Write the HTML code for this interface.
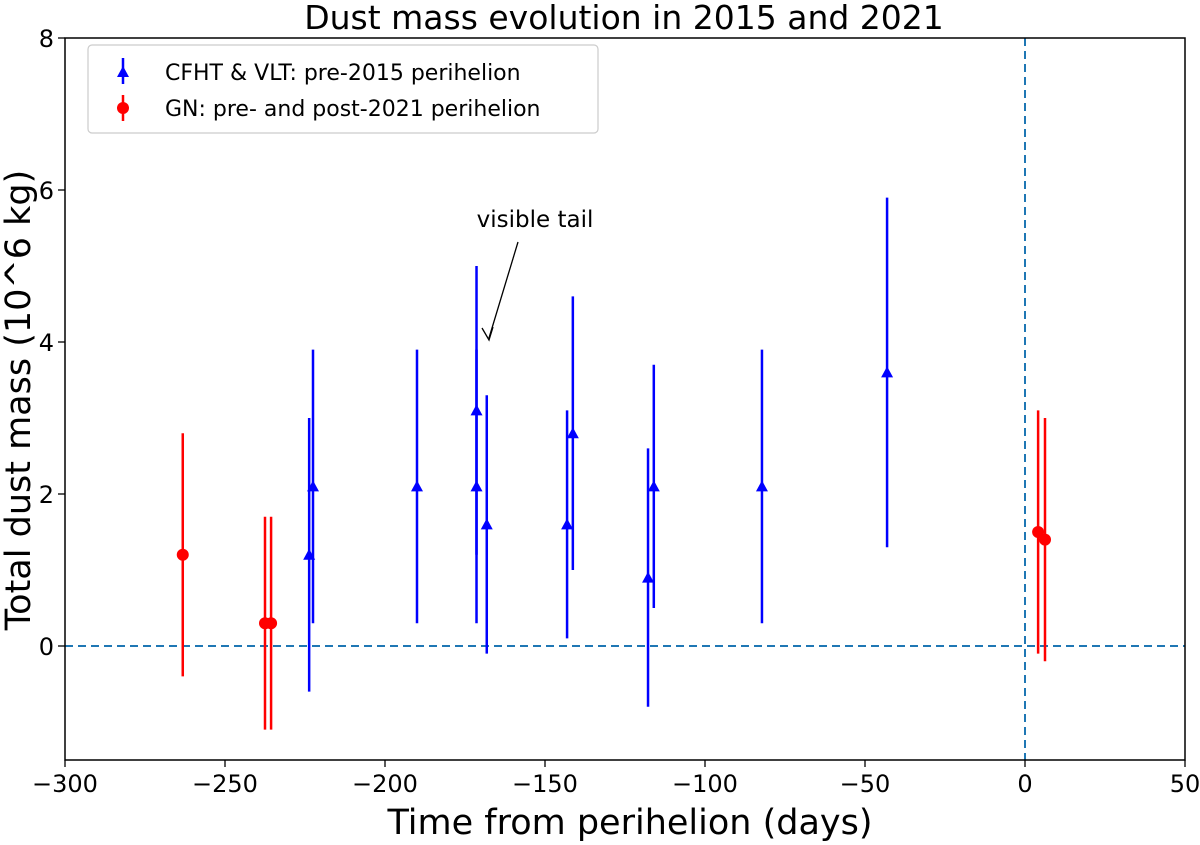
<!DOCTYPE html>
<html><head><meta charset="utf-8"><style>
html,body{margin:0;padding:0;background:#fff;}
svg{display:block;font-family:"DejaVu Sans","Liberation Sans",sans-serif;}
</style></head><body>
<svg id="chart" width="1200" height="845" viewBox="0 0 1200 845">
<text x="624" y="29" font-size="33" text-anchor="middle">Dust mass evolution in 2015 and 2021</text>
<g id="grid"></g>
<g id="marks"></g>
<rect x="65" y="38" width="1120" height="722" fill="none" stroke="#000" stroke-width="1.5"/>
<g id="axes"></g>
<text x="630" y="834" font-size="35" text-anchor="middle">Time from perihelion (days)</text>
<text transform="translate(30,400) rotate(-90)" font-size="35" text-anchor="middle">Total dust mass (10^6 kg)</text>
<g>
<text x="535" y="227" font-size="23" text-anchor="middle">visible tail</text>
<line x1="518" y1="242" x2="489" y2="338" stroke="#000" stroke-width="1.3"/>
<path d="M482,328 L489,340 L493,327" fill="none" stroke="#000" stroke-width="1.3"/>
</g>
<g>
<rect x="88" y="45" width="510" height="88" rx="4" fill="#fff" stroke="#ccc" stroke-width="1.2"/>
<line x1="123" y1="58" x2="123" y2="84" stroke="#0000ff" stroke-width="2.5"/>
<path d="M117,77 L123,66 L129,77Z" fill="#0000ff"/>
<text x="165" y="80" font-size="22">CFHT &amp; VLT: pre-2015 perihelion</text>
<line x1="123" y1="95" x2="123" y2="121" stroke="#ff0000" stroke-width="2.5"/>
<circle cx="123" cy="108" r="6" fill="#ff0000"/>
<text x="165" y="116" font-size="22">GN: pre- and post-2021 perihelion</text>
</g>
</svg>
<script>
const xTicks=[-300,-250,-200,-150,-100,-50,0,50];
const yTicks=[0,2,4,6,8];
const blueX=[-223.7,-222.5,-190,-171.4,-171.4,-168.2,-143.1,-141.3,-117.8,-116,-82.2,-43.1];
const blueY=[1.2,2.1,2.1,3.1,2.1,1.6,1.6,2.8,0.9,2.1,2.1,3.6];
const blueLo=[-0.6,0.3,0.3,1.2,0.3,-0.1,0.1,1.0,-0.8,0.5,0.3,1.3];
const blueHi=[3.0,3.9,3.9,5.0,3.9,3.3,3.1,4.6,2.6,3.7,3.9,5.9];
const redX=[-263.2,-237.5,-235.6,4.1,6.25];
const redY=[1.2,0.3,0.3,1.5,1.4];
const redLo=[-0.4,-1.1,-1.1,-0.1,-0.2];
const redHi=[2.8,1.7,1.7,3.1,3.0];
const NS='http://www.w3.org/2000/svg';
const xs=v=>65+(v+300)*3.2;
const ys=v=>646-v*76;
function mk(tag,attrs,parent){const e=document.createElementNS(NS,tag);for(const k in attrs)e.setAttribute(k,attrs[k]);parent.appendChild(e);return e;}
const axes=document.getElementById('axes'),marks=document.getElementById('marks'),grid=document.getElementById('grid');
xTicks.forEach(t=>{const x=xs(t);
mk('line',{x1:x,x2:x,y1:760,y2:767,stroke:'#000','stroke-width':1.3},axes);
const tx=mk('text',{x:x,y:792,'font-size':24,'text-anchor':'middle'},axes);tx.textContent=t<0?'\u2212'+(-t):t;

});
yTicks.forEach(t=>{const y=ys(t);
mk('line',{x1:58,x2:65,y1:y,y2:y,stroke:'#000','stroke-width':1.3},axes);
const tx=mk('text',{x:54,y:y+9,'font-size':24,'text-anchor':'end'},axes);tx.textContent=t;

});
const h=mk('line',{x1:65,x2:1185,y1:ys(0),y2:ys(0),stroke:'#1f77b4','stroke-width':2,'stroke-dasharray':'8,5'},grid);


const v=mk('line',{x1:xs(0),x2:xs(0),y1:38,y2:760,stroke:'#1f77b4','stroke-width':2,'stroke-dasharray':'8,5'},grid);


blueX.forEach((d,i)=>{const x=xs(d);
const l=mk('line',{x1:x,x2:x,y1:ys(blueLo[i]),y2:ys(blueHi[i]),stroke:'#0000ff','stroke-width':2.5},marks);


const y=ys(blueY[i]);
const p=mk('path',{d:`M${x-6},${y+5} L${x},${y-6} L${x+6},${y+5}Z`,fill:'#0000ff'},marks);

});
redX.forEach((d,i)=>{const x=xs(d);
const l=mk('line',{x1:x,x2:x,y1:ys(redLo[i]),y2:ys(redHi[i]),stroke:'#ff0000','stroke-width':2.5},marks);


const c=mk('circle',{cx:x,cy:ys(redY[i]),r:6,fill:'#ff0000'},marks);

});
</script>
</body></html>
